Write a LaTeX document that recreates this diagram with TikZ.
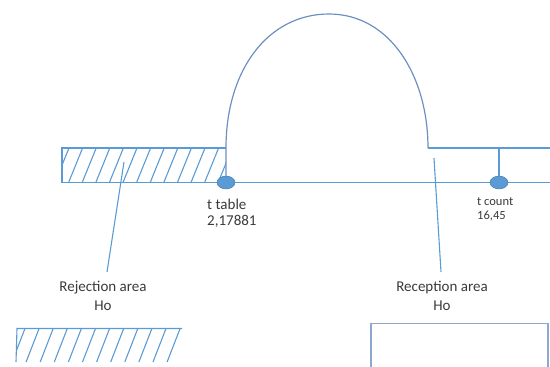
\documentclass[tikz,border=0pt]{standalone}
\usepackage{fontspec}
\setmainfont{Carlito}
\usetikzlibrary{shapes.geometric}

\definecolor{lineblue}{HTML}{5B9BD5}
\definecolor{curveblue}{HTML}{6D90C0}
\definecolor{dotedge}{HTML}{41719C}
\definecolor{boxblue}{HTML}{8EA8D2}
\definecolor{textgray}{HTML}{3A3A3A}

\tikzset{
  axisline/.style = {draw=lineblue, line width=1.1pt},
  curveline/.style = {draw=curveblue, line width=1.2pt},
  boxline/.style = {draw=boxblue, line width=1.7pt},
  pointdot/.style = {ellipse, fill=lineblue, draw=dotedge, line width=0.4pt,
    minimum width=18pt, minimum height=13pt, inner sep=0pt},
  areatext/.style = {font=\fontsize{15}{19}\selectfont, text=textgray,
    align=center, inner xsep=0pt, inner ysep=9pt, anchor=north},
  valtext/.style = {text=textgray, align=left, inner sep=0pt, anchor=north west}
}

\begin{document}
\begin{tikzpicture}[x = 1pt, y = -1pt]
    \useasboundingbox (0,0) rectangle (550,367);

    \coordinate (ttable) at (226,182.5);
    \coordinate (tcount) at (499,182.5);
    \coordinate (axisend) at (550,182.5);
    \coordinate (footright) at (428,148);
    \coordinate (topend) at (550,148);
    \coordinate (rejpt) at (124,162);
    \coordinate (recpt) at (434,158);

    % rejection area, hatched
    \begin{scope}
        \clip (62,148) rectangle (226,182.5);
        \foreach \i in {0,...,13}
            \draw[axisline] (55+13.6*\i,182.5) -- ++(14,-34.5);
    \end{scope}
    \draw[axisline] (ttable |- topend) -- (62,148) -- (62,182.5) -- (ttable);

    \draw[axisline] (ttable) -- (tcount) -- (axisend);
    \draw[curveline]
    (ttable) -- (226,148) .. controls (226,70) and (268,14) .. (329,14)
    .. controls (390,14) and (428,76) .. (footright);
    \draw[axisline] (footright) -- (topend);
    \draw[axisline] (tcount) -- (tcount |- topend);

    \node[pointdot] (ttabledot) at (ttable) {};
    \node[pointdot] (tcountdot) at (tcount) {};

    \node[valtext, font=\fontsize{15}{16}\selectfont] (ttablelbl) at (207,198.5) {t table\\2,17881};
    \node[valtext, font=\fontsize{12.5}{14}\selectfont] (tcountlbl) at (477,197.5) {t count\\16,45};

    \node[areatext] (rej) at (103,272) {Rejection area\\Ho};
    \node[areatext] (rec) at (442,272) {Reception area\\Ho};
    \draw[axisline] ([xshift=4pt]rej.north) -- (rejpt);
    \draw[axisline] ([xshift=-1pt]rec.north) -- (recpt);

    % second hatch and box at the bottom
    \draw[axisline] (16,362) -- (17,328.5) -- (182,328.5);
    \begin{scope}
        \clip (16,328) rectangle (183,363);
        \foreach \i in {0,...,11}
            \draw[axisline] (25+14.1*\i,328.5) -- ++(-13,33.5);
    \end{scope}
    \draw[boxline] (371,368) -- (371,323.5) -- (548,323.5) -- (548,368);
\end{tikzpicture}
\end{document}
